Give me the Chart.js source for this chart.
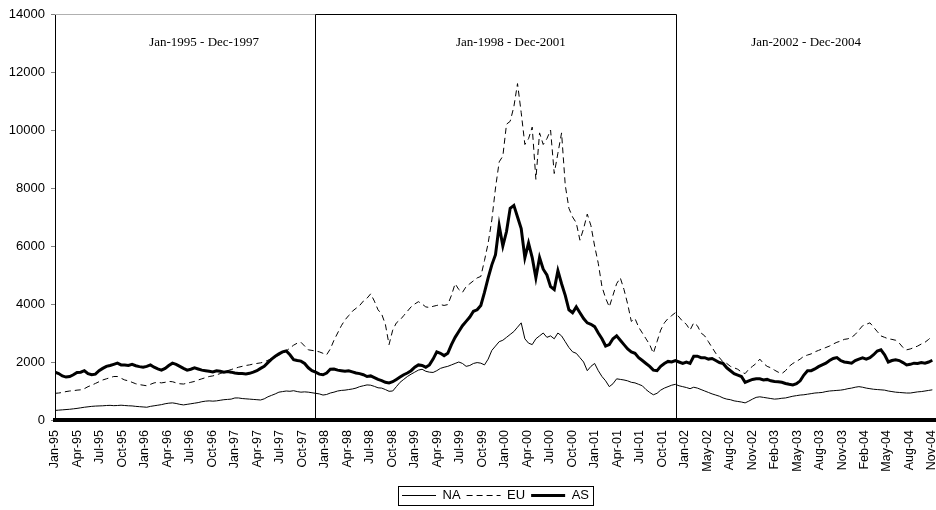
<!DOCTYPE html>
<html>
<head>
<meta charset="utf-8">
<script src="https://cdn.jsdelivr.net/npm/chart.js@4.4.1/dist/chart.umd.min.js"></script>
<style>
  html, body { margin: 0; padding: 0; background: #fff; }
</style>
</head>
<body>
<canvas id="chart" width="936" height="510"></canvas>
<script>
// Half-monthly readings, Jan-1995 .. Dec-2004 (24 values per year)
const naValues = [
    330, 340, 350, 360, 370, 385, 400, 420, 440, 455, 470, 480, 485, 490, 500, 505, 495, 500, 510, 500, 490, 485, 470, 460,
    450, 440, 470, 490, 510, 530, 560, 580, 590, 570, 540, 520, 540, 560, 580, 600, 630, 650, 660, 650, 660, 680, 700, 710,
    720, 760, 760, 740, 730, 720, 710, 700, 690, 730, 800, 850, 900, 960, 980, 1000, 990, 1010, 980, 960, 970, 960, 940, 920,
    900, 860, 880, 930, 960, 1000, 1020, 1030, 1050, 1070, 1100, 1150, 1180, 1210, 1200, 1160, 1110, 1100, 1050, 990, 1000, 1150, 1300, 1400,
    1500, 1580, 1650, 1720, 1750, 1680, 1650, 1640, 1700, 1780, 1820, 1850, 1900, 1950, 2000, 1950, 1850, 1880, 1950, 1980, 1960, 1900, 2100, 2400,
    2550, 2700, 2750, 2850, 2950, 3050, 3200, 3350, 2800, 2650, 2600, 2800, 2900, 3000, 2850, 2900, 2800, 3000, 2900, 2700, 2500, 2350, 2300, 2150,
    2000, 1700, 1850, 1950, 1700, 1500, 1350, 1150, 1250, 1420, 1400, 1380, 1350, 1300, 1280, 1230, 1180, 1050, 950, 870, 920, 1030, 1100, 1150,
    1200, 1230, 1180, 1150, 1120, 1080, 1130, 1100, 1050, 1000, 950, 900, 860, 820, 760, 720, 700, 660, 640, 620, 590, 650, 720, 780,
    800, 780, 760, 740, 720, 730, 750, 760, 790, 820, 840, 860, 870, 890, 910, 930, 940, 950, 980, 1000, 1010, 1020, 1030, 1050,
    1080, 1100, 1130, 1150, 1130, 1100, 1080, 1060, 1050, 1040, 1030, 1000, 980, 960, 950, 940, 930, 930, 950, 970, 980, 1000, 1020, 1040
];

const euValues = [
    920, 930, 950, 980, 1000, 1010, 1030, 1040, 1080, 1150, 1200, 1260, 1320, 1380, 1420, 1460, 1500, 1500, 1440, 1380, 1350, 1300, 1250, 1220,
    1200, 1180, 1230, 1280, 1300, 1280, 1300, 1330, 1320, 1280, 1250, 1240, 1270, 1300, 1330, 1380, 1420, 1460, 1500, 1520, 1560, 1600, 1650, 1700,
    1740, 1780, 1820, 1850, 1880, 1900, 1930, 1950, 1970, 2000, 2060, 2120, 2180, 2240, 2300, 2380, 2480, 2580, 2650, 2680, 2550, 2420, 2400, 2380,
    2350, 2300, 2250, 2450, 2750, 3000, 3250, 3450, 3600, 3750, 3850, 3950, 4100, 4200, 4350, 4100, 3800, 3650, 3300, 2600, 3100, 3350, 3450, 3600,
    3750, 3900, 4000, 4080, 4000, 3900, 3880, 3920, 3950, 3980, 3950, 3980, 4300, 4700, 4500, 4400, 4600, 4700, 4800, 4900, 4950, 5500, 6100, 6900,
    8000, 8900, 9100, 10200, 10300, 10800, 11600, 10600, 9500, 9700, 10100, 8300, 9900, 9500, 9700, 10000, 8500, 9200, 9900, 8100, 7300, 7000, 6800, 6200,
    6600, 7100, 6700, 6000, 5400, 4600, 4200, 3900, 4300, 4700, 4900, 4500, 4000, 3400, 3500, 3200, 3000, 2800, 2600, 2300, 2700, 3100, 3350, 3500,
    3600, 3700, 3550, 3400, 3300, 3100, 3350, 3250, 3000, 2900, 2700, 2500, 2300, 2150, 2000, 1950, 1850, 1800, 1750, 1650, 1600, 1750, 1850, 1950,
    2100, 1950, 1850, 1800, 1720, 1650, 1600, 1700, 1850, 1950, 2020, 2100, 2200, 2240, 2280, 2350, 2400, 2450, 2500, 2550, 2620, 2680, 2720, 2780,
    2800, 2850, 2950, 3100, 3250, 3300, 3350, 3200, 3050, 2900, 2850, 2800, 2780, 2750, 2650, 2500, 2420, 2450, 2500, 2550, 2620, 2680, 2780, 2900
];

const asValues = [
    1650, 1600, 1520, 1480, 1500, 1560, 1640, 1650, 1700, 1600, 1560, 1580, 1700, 1780, 1850, 1880, 1920, 1960, 1900, 1900, 1880, 1920, 1870, 1840,
    1820, 1850, 1900, 1820, 1760, 1720, 1780, 1880, 1960, 1920, 1850, 1780, 1720, 1750, 1800, 1760, 1720, 1700, 1680, 1660, 1700, 1680, 1650, 1670,
    1650, 1620, 1600, 1600, 1590, 1610, 1650, 1700, 1780, 1850, 1980, 2100, 2200, 2280, 2350, 2380, 2250, 2080, 2050, 2030, 1950, 1800, 1700, 1650,
    1580, 1560, 1620, 1750, 1760, 1720, 1700, 1680, 1700, 1660, 1620, 1600, 1560, 1500, 1520, 1460, 1400, 1360, 1300, 1280, 1320, 1400, 1480, 1560,
    1620, 1700, 1820, 1900, 1880, 1820, 1900, 2100, 2350, 2300, 2220, 2300, 2600, 2850, 3050, 3250, 3400, 3550, 3750, 3800, 3950, 4400, 4900, 5350,
    5700, 6700, 6000, 6500, 7300, 7400, 7000, 6600, 5600, 6100, 5600, 4900, 5600, 5200, 5000, 4600, 4500, 5150, 4700, 4300, 3800, 3700, 3900, 3700,
    3500, 3350, 3300, 3220, 3000, 2800, 2550, 2600, 2800, 2900, 2750, 2600, 2450, 2350, 2300, 2150, 2050, 1950, 1850, 1720, 1700, 1850, 1950, 2020,
    2000, 2050, 2000, 1950, 2000, 1950, 2200, 2200, 2150, 2150, 2100, 2120, 2050, 1980, 1950, 1800, 1700, 1600, 1550, 1500, 1300, 1350, 1400, 1420,
    1420, 1380, 1400, 1350, 1330, 1320, 1300, 1260, 1230, 1210, 1250, 1350, 1550, 1700, 1700, 1760, 1840, 1900, 1960, 2050, 2120, 2150, 2050, 2000,
    1980, 1960, 2050, 2100, 2140, 2100, 2150, 2250, 2380, 2420, 2250, 2000, 2050, 2080, 2050, 1980, 1900, 1920, 1960, 1950, 1980, 1960, 2000, 2060
];

const tickLabels = [
    "Jan-95", "Apr-95", "Jul-95", "Oct-95", "Jan-96", "Apr-96", "Jul-96", "Oct-96",
    "Jan-97", "Apr-97", "Jul-97", "Oct-97", "Jan-98", "Apr-98", "Jul-98", "Oct-98",
    "Jan-99", "Apr-99", "Jul-99", "Oct-99", "Jan-00", "Apr-00", "Jul-00", "Oct-00",
    "Jan-01", "Apr-01", "Jul-01", "Oct-01", "Jan-02", "May-02", "Aug-02", "Nov-02",
    "Feb-03", "May-03", "Aug-03", "Nov-03", "Feb-04", "May-04", "Aug-04", "Nov-04"
];

const periodLabels = ["Jan-1995 - Dec-1997", "Jan-1998 - Dec-2001", "Jan-2002 - Dec-2004"];

// x axis is in months from Jan-95; labels come every 65 trading days (~3.06 months)
const TICK_STEP = 3.063;
const PERIOD_BREAKS = [35.4, 84.6];
const PERIOD_TEXT_X = [20.3, 62.1, 102.3];

const SANS = "'Liberation Sans', Arial, sans-serif";
const SERIF = "'Liberation Serif', 'Times New Roman', serif";

function toPoints(values) {
    return values.map((v, i) => ({ x: i / 2, y: v }));
}

// ---- period boxes and their captions ----
const periodPlugin = {
    id: "periods",
    beforeDatasetsDraw(chart) {
        const { ctx, chartArea: a, scales: { x } } = chart;
        const b1 = Math.round(x.getPixelForValue(PERIOD_BREAKS[0])) + 0.5;
        const b2 = Math.round(x.getPixelForValue(PERIOD_BREAKS[1])) + 0.5;
        const top = Math.round(a.top) + 0.5;
        ctx.save();
        ctx.lineWidth = 1;

        ctx.strokeStyle = "#b0b0b0";
        ctx.beginPath();
        ctx.moveTo(a.left, top);
        ctx.lineTo(b1, top);
        ctx.stroke();

        ctx.strokeStyle = "#000";
        ctx.beginPath();
        ctx.moveTo(b1, a.bottom);
        ctx.lineTo(b1, top);
        ctx.lineTo(b2, top);
        ctx.lineTo(b2, a.bottom);
        ctx.stroke();

        ctx.fillStyle = "#000";
        ctx.font = "13px " + SERIF;
        ctx.textAlign = "center";
        ctx.textBaseline = "middle";
        periodLabels.forEach((t, i) => {
            ctx.fillText(t, x.getPixelForValue(PERIOD_TEXT_X[i]), a.top + 29);
        });
        ctx.restore();
    }
};

// ---- frame around the legend ----
const legendBoxPlugin = {
    id: "legendBox",
    afterDraw(chart) {
        const boxes = chart.legend && chart.legend.legendHitBoxes;
        if (!boxes || !boxes.length) return;
        const left = Math.min(...boxes.map(b => b.left)) - 4;
        const right = Math.max(...boxes.map(b => b.left + b.width)) + 4;
        const top = Math.min(...boxes.map(b => b.top)) - 3;
        const bottom = Math.max(...boxes.map(b => b.top + b.height)) + 3;
        const { ctx } = chart;
        ctx.save();
        ctx.strokeStyle = "#000";
        ctx.lineWidth = 1;
        ctx.strokeRect(Math.round(left) + 0.5, Math.round(top) + 0.5,
            Math.round(right - left), Math.round(bottom - top));
        ctx.restore();
    }
};

new Chart(document.getElementById("chart"), {
    type: "line",
    data: {
        datasets: [{
            label: "NA",
            data: toPoints(naValues),
            borderColor: "#000",
            borderWidth: 1
        }, {
            label: "EU",
            data: toPoints(euValues),
            borderColor: "#000",
            borderWidth: 1,
            borderDash: [6, 4]
        }, {
            label: "AS",
            data: toPoints(asValues),
            borderColor: "#000",
            borderWidth: 3
        }]
    },
    options: {
        responsive: false,
        animation: false,
        elements: { point: { radius: 0 }, line: { tension: 0 } },
        layout: { padding: { top: 14, right: 0, left: 0, bottom: -2 } },
        plugins: {
            tooltip: { enabled: false },
            legend: {
                position: "bottom",
                fullSize: false,
                labels: {
                    usePointStyle: true,
                    pointStyleWidth: 34,
                    padding: 6,
                    color: "#000",
                    font: { family: SANS, size: 13 },
                    generateLabels: chart => chart.data.datasets.map((ds, i) => ({
                        text: ds.label,
                        datasetIndex: i,
                        pointStyle: "line",
                        strokeStyle: "#000",
                        fillStyle: "#000",
                        fontColor: "#000",
                        lineWidth: ds.borderWidth,
                        lineDash: ds.borderDash || []
                    }))
                }
            }
        },
        scales: {
            x: {
                type: "linear",
                min: 0,
                max: 120,
                grid: { display: false, drawTicks: false },
                border: { display: true, color: "#000", width: 4 },
                afterBuildTicks: scale => {
                    scale.ticks = tickLabels.map((_, k) => ({ value: k * TICK_STEP }));
                },
                afterFit: scale => {
                    scale.height = 63;
                    scale.paddingLeft = 0;
                    scale.paddingRight = 0;
                },
                ticks: {
                    autoSkip: false,
                    maxRotation: 90,
                    minRotation: 90,
                    padding: 10,
                    color: "#000",
                    font: { family: SANS, size: 12.5 },
                    callback: (value, index) => tickLabels[index]
                }
            },
            y: {
                min: 0,
                max: 14000,
                grid: { drawOnChartArea: false, drawTicks: true, tickLength: 4, color: "#808080" },
                border: { display: true, color: "#000", width: 1 },
                afterFit: scale => { scale.width = 55; },
                ticks: {
                    stepSize: 2000,
                    padding: 6,
                    color: "#000",
                    font: { family: SANS, size: 13 },
                    callback: value => String(value)
                }
            }
        }
    },
    plugins: [periodPlugin, legendBoxPlugin]
});
</script>
</body>
</html>
